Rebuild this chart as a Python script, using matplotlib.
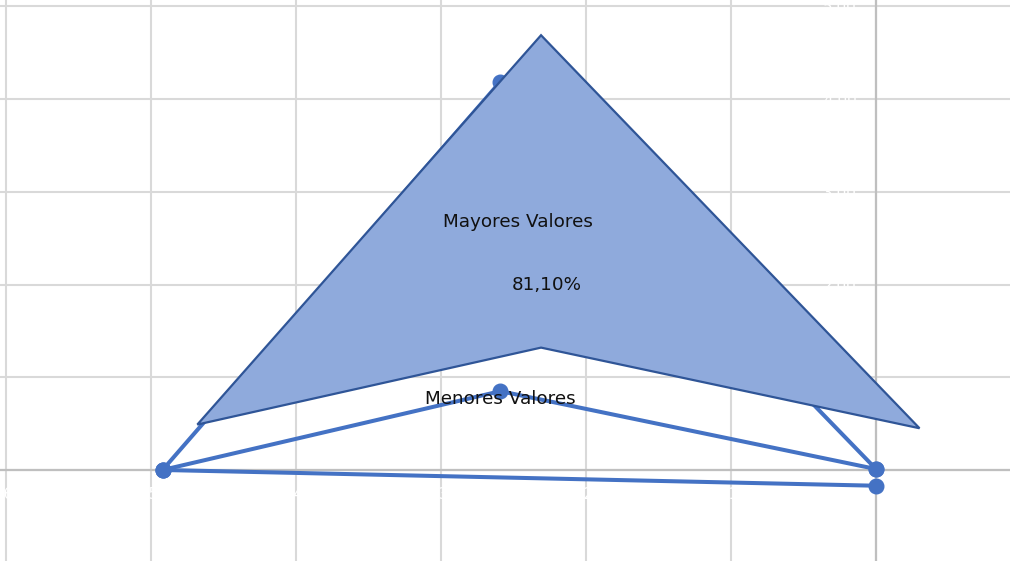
import matplotlib.pyplot as plt

# data
serie_a_x = [-4.92, -2.59, 0.0]
serie_a_y = [0.0, 4.19, 0.01]
serie_b_x = [-4.92, -2.59, 0.0]
serie_b_y = [0.0, 0.85, 0.01]
serie_c_x = [-4.92, 0.0]
serie_c_y = [0.0, -0.17]

# arrow shape (data coords)
forma_x = [-2.31, 0.30, -2.31, -4.68]
forma_y = [4.69, 0.45, 1.32, 0.49]

x_ticks = [-6, -5, -4, -3, -2, -1, 0]
y_ticks = [0, 1, 2, 3, 4, 5]

azul = '#4472C4'

fig = plt.figure(figsize=(10.10, 5.61), dpi=100)
ax = fig.add_axes([0, 0, 1, 1])

ax.set_xlim(-6.041, 0.924)
ax.set_ylim(-0.982, 5.070)
ax.set_xticks(x_ticks)
ax.set_yticks(y_ticks)
ax.set_xticklabels([str(v) for v in x_ticks])
ax.set_yticklabels(['0'] + ['%d,00' % v for v in y_ticks[1:]])
ax.tick_params(length=0, labelcolor='white', labelsize=11)
ax.tick_params(axis='x', pad=12)
ax.tick_params(axis='y', pad=14)
ax.grid(True, color='#D9D9D9', linewidth=1.5)
ax.set_axisbelow(True)

# axes crossing at zero
for s in ['top', 'right']:
    ax.spines[s].set_visible(False)
for s in ['left', 'bottom']:
    ax.spines[s].set_position(('data', 0))
    ax.spines[s].set_color('#BFBFBF')
    ax.spines[s].set_linewidth(1.6)
    ax.spines[s].set_zorder(1)

for xs, ys in [(serie_a_x, serie_a_y), (serie_b_x, serie_b_y), (serie_c_x, serie_c_y)]:
    ax.plot(xs, ys, color=azul, linewidth=2.9, marker='o', markersize=10.5, zorder=2)

ax.fill(forma_x, forma_y, facecolor='#8FAADC', edgecolor='#2F5597', linewidth=1.6, zorder=3)

ax.text(-2.47, 2.68, 'Mayores Valores', ha='center', va='center', fontsize=13.2, color='#111111', zorder=4)
ax.text(-2.27, 2.0, '81,10%', ha='center', va='center', fontsize=13.2, color='#111111', zorder=4)
ax.text(-2.59, 0.77, 'Menores Valores', ha='center', va='center', fontsize=13.2, color='#111111', zorder=4)

fig.savefig('out.png', dpi=100)
